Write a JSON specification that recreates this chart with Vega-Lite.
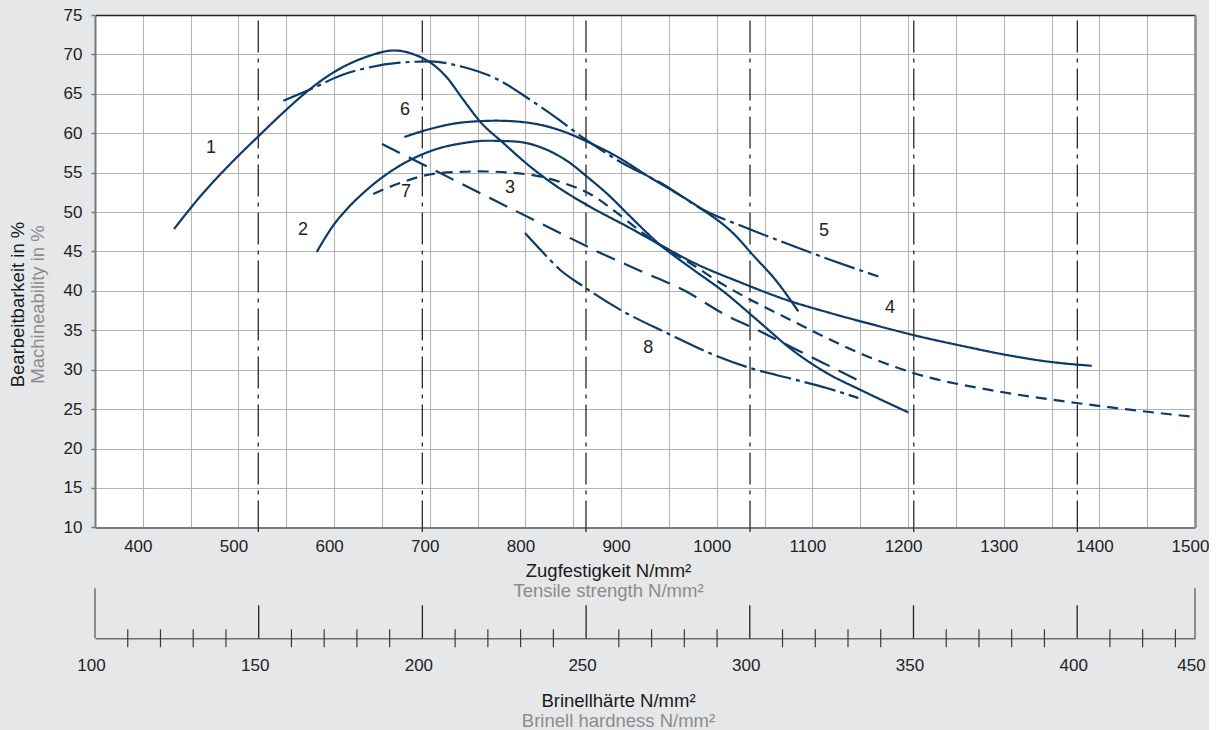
{
  "$schema": "https://vega.github.io/schema/vega-lite/v6.json",
  "background": "#e6e7e9",
  "padding": {"left": 8, "top": 6, "right": 0, "bottom": 0},
  "bounds": "flush",
  "spacing": 60.3,
  "config": {
    "font": "Liberation Sans",
    "view": {"stroke": null},
    "axis": {
      "labelFont": "Liberation Sans",
      "titleFont": "Liberation Sans",
      "labelColor": "#222222",
      "labelFontSize": 17,
      "titleFontSize": 18.5,
      "titleFontWeight": "normal",
      "labelFlush": false,
      "labelOverlap": false
    }
  },
  "datasets": {
    "curves": [
      {"c": "1", "t": 432.6, "m": 47.85}, {"c": "1", "t": 459.8, "m": 51.95}, {"c": "1", "t": 494.6, "m": 56.5},
      {"c": "1", "t": 520.7, "m": 59.6}, {"c": "1", "t": 549.7, "m": 62.95}, {"c": "1", "t": 574.8, "m": 65.6},
      {"c": "1", "t": 599.1, "m": 67.7}, {"c": "1", "t": 634.0, "m": 69.7}, {"c": "1", "t": 662.9, "m": 70.5},
      {"c": "1", "t": 684.5, "m": 69.95}, {"c": "1", "t": 700.2, "m": 69.0}, {"c": "1", "t": 717.7, "m": 67.1},
      {"c": "1", "t": 735.0, "m": 64.26}, {"c": "1", "t": 752.5, "m": 61.5}, {"c": "1", "t": 776.9, "m": 58.76},
      {"c": "1", "t": 804.8, "m": 55.79}, {"c": "1", "t": 832.7, "m": 53.26}, {"c": "1", "t": 867.5, "m": 50.68},
      {"c": "1", "t": 905.9, "m": 48.2}, {"c": "1", "t": 940.7, "m": 45.86}, {"c": "1", "t": 975.5, "m": 43.6},
      {"c": "1", "t": 1024.3, "m": 41.1}, {"c": "1", "t": 1073.1, "m": 38.85}, {"c": "1", "t": 1118.4, "m": 37.2},
      {"c": "1", "t": 1167.2, "m": 35.6}, {"c": "1", "t": 1205.5, "m": 34.4}, {"c": "1", "t": 1261.3, "m": 32.9},
      {"c": "1", "t": 1299.6, "m": 31.95}, {"c": "1", "t": 1348.4, "m": 31.0}, {"c": "1", "t": 1392.0, "m": 30.5},

      {"c": "2", "t": 581.8, "m": 44.94}, {"c": "2", "t": 599.1, "m": 48.3}, {"c": "2", "t": 616.6, "m": 50.8},
      {"c": "2", "t": 634.0, "m": 52.8}, {"c": "2", "t": 651.4, "m": 54.5}, {"c": "2", "t": 668.9, "m": 55.9},
      {"c": "2", "t": 689.8, "m": 57.2}, {"c": "2", "t": 710.0, "m": 58.1}, {"c": "2", "t": 735.0, "m": 58.75},
      {"c": "2", "t": 759.5, "m": 59.05}, {"c": "2", "t": 787.3, "m": 58.97}, {"c": "2", "t": 822.2, "m": 57.91},
      {"c": "2", "t": 846.6, "m": 56.23}, {"c": "2", "t": 864.0, "m": 54.53}, {"c": "2", "t": 888.4, "m": 51.99},
      {"c": "2", "t": 905.9, "m": 49.88}, {"c": "2", "t": 940.7, "m": 45.86}, {"c": "2", "t": 975.5, "m": 42.69},
      {"c": "2", "t": 1006.9, "m": 39.94}, {"c": "2", "t": 1041.8, "m": 36.35}, {"c": "2", "t": 1078.0, "m": 32.6},
      {"c": "2", "t": 1114.9, "m": 29.59}, {"c": "2", "t": 1149.8, "m": 27.47}, {"c": "2", "t": 1200.3, "m": 24.59},

      {"c": "6", "t": 673.4, "m": 59.52}, {"c": "6", "t": 700.2, "m": 60.54}, {"c": "6", "t": 735.0, "m": 61.38},
      {"c": "6", "t": 770.0, "m": 61.59}, {"c": "6", "t": 804.8, "m": 61.3}, {"c": "6", "t": 839.6, "m": 60.23},
      {"c": "6", "t": 864.0, "m": 58.97}, {"c": "6", "t": 895.4, "m": 57.06}, {"c": "6", "t": 930.2, "m": 54.4},
      {"c": "6", "t": 951.1, "m": 52.9}, {"c": "6", "t": 982.5, "m": 50.52}, {"c": "6", "t": 1017.3, "m": 47.3},
      {"c": "6", "t": 1038.2, "m": 44.5}, {"c": "6", "t": 1062.7, "m": 41.2}, {"c": "6", "t": 1085.3, "m": 37.4},

      {"c": "5", "t": 546.9, "m": 64.13}, {"c": "5", "t": 578.2, "m": 65.74}, {"c": "5", "t": 606.1, "m": 67.3},
      {"c": "5", "t": 634.0, "m": 68.28}, {"c": "5", "t": 668.9, "m": 68.95}, {"c": "5", "t": 700.2, "m": 69.11},
      {"c": "5", "t": 735.0, "m": 68.4}, {"c": "5", "t": 770.0, "m": 66.88}, {"c": "5", "t": 804.8, "m": 64.26},
      {"c": "5", "t": 832.7, "m": 61.93}, {"c": "5", "t": 860.5, "m": 59.4}, {"c": "5", "t": 895.4, "m": 56.64},
      {"c": "5", "t": 947.7, "m": 53.26}, {"c": "5", "t": 982.5, "m": 50.52}, {"c": "5", "t": 1031.3, "m": 47.98},
      {"c": "5", "t": 1076.6, "m": 45.86}, {"c": "5", "t": 1118.4, "m": 43.96}, {"c": "5", "t": 1168.9, "m": 41.84},

      {"c": "3", "t": 640.9, "m": 52.29}, {"c": "3", "t": 668.9, "m": 53.69}, {"c": "3", "t": 710.7, "m": 54.96},
      {"c": "3", "t": 752.5, "m": 55.16}, {"c": "3", "t": 804.8, "m": 54.74}, {"c": "3", "t": 839.6, "m": 53.69},
      {"c": "3", "t": 867.5, "m": 52.3}, {"c": "3", "t": 898.9, "m": 49.6}, {"c": "3", "t": 919.8, "m": 47.6},
      {"c": "3", "t": 940.7, "m": 45.8}, {"c": "3", "t": 972.0, "m": 43.54}, {"c": "3", "t": 1006.9, "m": 40.79},
      {"c": "3", "t": 1041.8, "m": 38.47}, {"c": "3", "t": 1076.6, "m": 36.35}, {"c": "3", "t": 1111.4, "m": 34.23},
      {"c": "3", "t": 1153.2, "m": 31.91}, {"c": "3", "t": 1205.5, "m": 29.59}, {"c": "3", "t": 1296.1, "m": 27.21},
      {"c": "3", "t": 1376.3, "m": 25.78}, {"c": "3", "t": 1500.0, "m": 24.0},

      {"c": "7", "t": 650.0, "m": 58.64}, {"c": "7", "t": 689.8, "m": 56.23}, {"c": "7", "t": 756.0, "m": 52.2},
      {"c": "7", "t": 836.1, "m": 47.35}, {"c": "7", "t": 877.9, "m": 44.85}, {"c": "7", "t": 919.8, "m": 42.56},
      {"c": "7", "t": 968.6, "m": 39.9}, {"c": "7", "t": 1006.9, "m": 37.1}, {"c": "7", "t": 1041.8, "m": 35.08},
      {"c": "7", "t": 1069.6, "m": 33.39}, {"c": "7", "t": 1094.0, "m": 31.9}, {"c": "7", "t": 1128.9, "m": 29.8},
      {"c": "7", "t": 1149.8, "m": 28.52},

      {"c": "8", "t": 799.5, "m": 47.35}, {"c": "8", "t": 815.2, "m": 45.29}, {"c": "8", "t": 836.1, "m": 42.69},
      {"c": "8", "t": 860.5, "m": 40.57}, {"c": "8", "t": 898.9, "m": 37.62}, {"c": "8", "t": 947.7, "m": 34.66},
      {"c": "8", "t": 996.4, "m": 31.91}, {"c": "8", "t": 1034.8, "m": 30.22}, {"c": "8", "t": 1080.0, "m": 28.8},
      {"c": "8", "t": 1114.9, "m": 27.68}, {"c": "8", "t": 1148.0, "m": 26.41}
    ],
    "vlines": [{"t": 520.7}, {"t": 692.2}, {"t": 863.3}, {"t": 1034.8}, {"t": 1206.0}, {"t": 1377.0}],
    "labels": [
      {"t": 471.3, "m": 58.17, "label": "1"},
      {"t": 567.5, "m": 47.76, "label": "2"},
      {"t": 783.9, "m": 53.09, "label": "3"},
      {"t": 1181.1, "m": 37.83, "label": "4"},
      {"t": 1112.1, "m": 47.55, "label": "5"},
      {"t": 674.1, "m": 62.99, "label": "6"},
      {"t": 675.1, "m": 52.58, "label": "7"},
      {"t": 928.5, "m": 32.76, "label": "8"}
    ],
    "bminor": [
      {"hb": 110}, {"hb": 120}, {"hb": 130}, {"hb": 140}, {"hb": 160}, {"hb": 170}, {"hb": 180}, {"hb": 190},
      {"hb": 210}, {"hb": 220}, {"hb": 230}, {"hb": 240}, {"hb": 260}, {"hb": 270}, {"hb": 280}, {"hb": 290},
      {"hb": 310}, {"hb": 320}, {"hb": 330}, {"hb": 340}, {"hb": 360}, {"hb": 370}, {"hb": 380}, {"hb": 390},
      {"hb": 410}, {"hb": 420}, {"hb": 430}
    ],
    "bmajor": [{"hb": 150}, {"hb": 200}, {"hb": 250}, {"hb": 300}, {"hb": 350}, {"hb": 400}],
    "bends": [{"hb": 100}, {"hb": 450}]
  },
  "vconcat": [
    {
      "width": 1100,
      "height": 512.4,
      "view": {"fill": "#ffffff", "stroke": null},
      "resolve": {"axis": {"x": "independent", "y": "independent"}},
      "layer": [
        {
          "data": {"name": "vlines"},
          "mark": {"type": "rule", "color": "#2a2a2a", "strokeWidth": 1.3, "strokeDash": [32, 6, 4, 6]},
          "encoding": {
            "x": {"field": "t", "type": "quantitative", "scale": {"domain": [350, 1500], "nice": false, "zero": false},
                  "axis": {"orient": "top", "labels": false, "ticks": false, "grid": false, "domain": true, "domainColor": "#222222", "domainWidth": 1.6, "title": null}},
            "y": {"datum": 74.31, "type": "quantitative", "scale": {"domain": [10, 75], "nice": false, "zero": false},
                  "axis": {"orient": "right", "labels": false, "ticks": false, "grid": false, "domain": true, "domainColor": "#8a8a8a", "domainWidth": 2.5, "title": null}},
            "y2": {"datum": 10}
          }
        },
        {
          "data": {"name": "vlines"},
          "mark": {"type": "rule", "color": "#2a2a2a", "strokeWidth": 1.3},
          "encoding": {
            "x": {"field": "t", "type": "quantitative", "scale": {"domain": [350, 1500], "nice": false, "zero": false}, "axis": null},
            "y": {"datum": 10, "type": "quantitative", "scale": {"domain": [10, 75], "nice": false, "zero": false}, "axis": null},
            "y2": {"datum": 9.43}
          }
        },
        {
          "data": {"name": "curves"},
          "mark": {"type": "line", "interpolate": "monotone", "strokeWidth": 2.2, "color": "#0b3b68"},
          "encoding": {
            "x": {"field": "t", "type": "quantitative", "scale": {"domain": [350, 1500], "nice": false, "zero": false},
                  "axis": {"orient": "bottom",
                    "values": [350, 400, 450, 500, 550, 600, 650, 700, 750, 800, 850, 900, 950, 1000, 1050, 1100, 1150, 1200, 1250, 1300, 1350, 1400, 1450, 1500],
                    "format": "d",
                    "labelExpr": "datum.value % 100 === 0 ? datum.label : ''",
                    "grid": true, "gridColor": "#b4b4b4", "gridWidth": 1.1,
                    "ticks": false, "tickSize": 0,
                    "domain": true, "domainColor": "#7a7a7a", "domainWidth": 2,
                    "labelPadding": 11, "labelOffset": -5,
                    "title": "Zugfestigkeit N/mm²", "titleColor": "#1a1a1a",
                    "titleX": 513, "titleY": 43, "titleBaseline": "middle"}},
            "y": {"field": "m", "type": "quantitative", "scale": {"domain": [10, 75], "nice": false, "zero": false},
                  "axis": {"orient": "left",
                    "values": [10, 15, 20, 25, 30, 35, 40, 45, 50, 55, 60, 65, 70, 75],
                    "grid": true, "gridColor": "#b4b4b4", "gridWidth": 1.1,
                    "ticks": true, "tickSize": 4, "tickColor": "#7a7a7a", "tickWidth": 1.5,
                    "domain": true, "domainColor": "#7a7a7a", "domainWidth": 2,
                    "labelPadding": 9,
                    "title": "Machineability in %", "titleColor": "#8c8c8c",
                    "titleX": -58, "titleY": 289, "titleBaseline": "middle"}},
            "detail": {"field": "c", "type": "nominal"},
            "strokeDash": {"field": "c", "type": "nominal",
              "scale": {"domain": ["1", "2", "6", "5", "8", "3", "7"],
                        "range": [[1, 0], [1, 0], [1, 0], [32, 5, 4, 5], [32, 5, 4, 5], [11, 7], [20, 10]]},
              "legend": null}
          }
        },
        {
          "data": {"name": "labels"},
          "mark": {"type": "text", "fontSize": 18, "color": "#222222", "align": "center", "baseline": "middle", "font": "Liberation Sans"},
          "encoding": {
            "x": {"field": "t", "type": "quantitative", "scale": {"domain": [350, 1500], "nice": false, "zero": false},
                  "axis": {"orient": "bottom", "labels": false, "ticks": false, "grid": false, "domain": false,
                    "title": "Tensile strength N/mm²", "titleColor": "#8c8c8c",
                    "titleX": 513, "titleY": 63.5, "titleBaseline": "middle"}},
            "y": {"field": "m", "type": "quantitative", "scale": {"domain": [10, 75], "nice": false, "zero": false},
                  "axis": {"orient": "left", "labels": false, "ticks": false, "grid": false, "domain": false,
                    "title": "Bearbeitbarkeit in %", "titleColor": "#1a1a1a",
                    "titleX": -78, "titleY": 289, "titleBaseline": "middle"}},
            "text": {"field": "label", "type": "nominal"}
          }
        }
      ]
    },
    {
      "width": 1100,
      "height": 50,
      "view": {"stroke": null},
      "resolve": {"axis": {"x": "independent"}},
      "layer": [
        {
          "data": {"name": "bminor"},
          "mark": {"type": "rule", "color": "#3a3a3a", "strokeWidth": 1.2},
          "encoding": {
            "x": {"field": "hb", "type": "quantitative",
                  "scale": {"domain": [100, 430, 450], "range": [0, 1080.4, 1100], "nice": false, "zero": false},
                  "axis": {"orient": "bottom",
                    "values": [100, 150, 200, 250, 300, 350, 400, 450], "format": "d",
                    "grid": false, "ticks": false, "tickSize": 0,
                    "domain": true, "domainColor": "#6e6e6e", "domainWidth": 1.6,
                    "labelPadding": 19, "labelOffset": -4,
                    "title": "Brinellhärte N/mm²", "titleColor": "#1a1a1a",
                    "titleX": 523, "titleY": 62, "titleBaseline": "middle"}},
            "y": {"datum": -9, "type": "quantitative", "scale": {"domain": [0, 50], "nice": false, "zero": false}, "axis": null},
            "y2": {"datum": 9}
          }
        },
        {
          "data": {"name": "bmajor"},
          "mark": {"type": "rule", "color": "#222222", "strokeWidth": 1.3},
          "encoding": {
            "x": {"field": "hb", "type": "quantitative",
                  "scale": {"domain": [100, 430, 450], "range": [0, 1080.4, 1100], "nice": false, "zero": false},
                  "axis": {"orient": "bottom", "labels": false, "ticks": false, "grid": false, "domain": false,
                    "title": "Brinell hardness N/mm²", "titleColor": "#8c8c8c",
                    "titleX": 523, "titleY": 82, "titleBaseline": "middle"}},
            "y": {"datum": 0, "type": "quantitative", "scale": {"domain": [0, 50], "nice": false, "zero": false}, "axis": null},
            "y2": {"datum": 33}
          }
        },
        {
          "data": {"name": "bends"},
          "mark": {"type": "rule", "color": "#777777", "strokeWidth": 1.6},
          "encoding": {
            "x": {"field": "hb", "type": "quantitative",
                  "scale": {"domain": [100, 430, 450], "range": [0, 1080.4, 1100], "nice": false, "zero": false},
                  "axis": null},
            "y": {"datum": 0, "type": "quantitative", "scale": {"domain": [0, 50], "nice": false, "zero": false}, "axis": null},
            "y2": {"datum": 50}
          }
        }
      ]
    }
  ]
}
